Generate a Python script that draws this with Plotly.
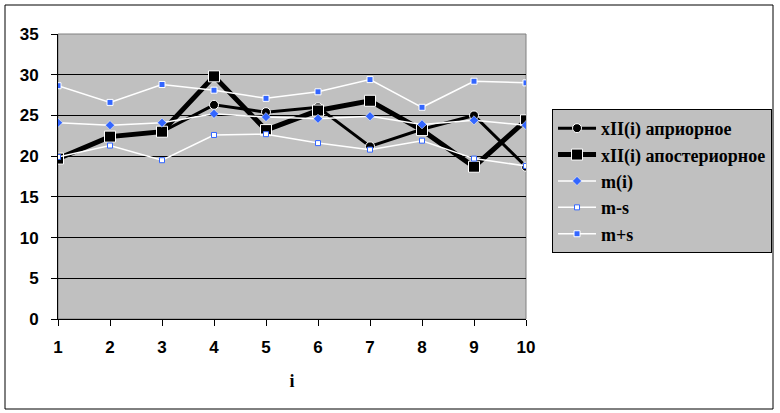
import plotly.graph_objects as go

i_vals = [1, 2, 3, 4, 5, 6, 7, 8, 9, 10]
x_apriori = [19.7, 22.4, 23.0, 26.3, 25.4, 26.0, 21.2, 23.3, 25.0, 18.7]
x_aposteriori = [19.7, 22.4, 23.0, 29.8, 23.2, 25.6, 26.8, 23.2, 18.7, 24.4]
m_vals = [24.1, 23.8, 24.1, 25.2, 24.8, 24.6, 24.9, 23.9, 24.4, 23.8]
m_minus_s = [19.9, 21.3, 19.5, 22.6, 22.7, 21.6, 20.8, 21.9, 19.7, 18.8]
m_plus_s = [28.65, 26.6, 28.8, 28.1, 27.1, 27.9, 29.4, 26.0, 29.2, 29.0]
names = ["xII(i) априорное", "xII(i) апостериорное", "m(i)", "m-s", "m+s"]
y_ticks = [0, 5, 10, 15, 20, 25, 30, 35]

fig = go.Figure()
fig.add_trace(go.Scatter(x=i_vals, y=x_apriori, name=names[0], mode="lines+markers",
                         line=dict(color="black", width=3),
                         marker=dict(symbol="circle", size=9, color="black",
                                     line=dict(color="white", width=1))))
fig.add_trace(go.Scatter(x=i_vals, y=x_aposteriori, name=names[1], mode="lines+markers",
                         line=dict(color="black", width=5),
                         marker=dict(symbol="square", size=11, color="black",
                                     line=dict(color="white", width=1))))
fig.add_trace(go.Scatter(x=i_vals, y=m_vals, name=names[2], mode="lines+markers",
                         line=dict(color="white", width=1.5),
                         marker=dict(symbol="diamond", size=7, color="#3366FF",
                                     line=dict(color="white", width=0.5))))
fig.add_trace(go.Scatter(x=i_vals, y=m_minus_s, name=names[3], mode="lines+markers",
                         line=dict(color="white", width=1.5),
                         marker=dict(symbol="square", size=5, color="white",
                                     line=dict(color="#3366FF", width=1))))
fig.add_trace(go.Scatter(x=i_vals, y=m_plus_s, name=names[4], mode="lines+markers",
                         line=dict(color="white", width=1.5),
                         marker=dict(symbol="square", size=6, color="#3366FF",
                                     line=dict(color="white", width=1))))

tickfont = dict(family="Liberation Sans, Arial", size=17, color="black", weight="bold")

fig.update_layout(
    width=780, height=413,
    margin=dict(l=58, r=254, t=34, b=94, autoexpand=False),
    paper_bgcolor="white",
    plot_bgcolor="#C0C0C0",
    showlegend=True,
    legend=dict(x=1.0556, y=0.737, xanchor="left", yanchor="top",
                bgcolor="#C0C0C0", bordercolor="black", borderwidth=1,
                font=dict(family="Liberation Serif, Times New Roman", size=18, color="black",
                          weight="bold"),
                itemwidth=38),
    xaxis=dict(range=[1, 10], tickvals=i_vals, ticks="outside", ticklen=6,
               tickcolor="black", showline=True, linecolor="black", linewidth=1,
               showgrid=False, zeroline=False, tickfont=tickfont, ticklabelstandoff=7,
               title=dict(text="i", font=dict(family="Liberation Serif, Times New Roman",
                                              size=18, color="black", weight="bold"),
                          standoff=17)),
    yaxis=dict(range=[0, 35], tickvals=y_ticks, ticks="outside", ticklen=6,
               tickcolor="black", showline=True, linecolor="black", linewidth=1,
               showgrid=True, gridcolor="black", gridwidth=1, zeroline=False,
               tickfont=tickfont, ticklabelstandoff=9),
)

# plot area gray border top/right
fig.add_shape(type="rect", xref="paper", yref="paper", x0=0, x1=1, y0=0, y1=1,
              line=dict(color="#808080", width=1), layer="below")
# outer chart border
fig.add_shape(type="rect", xref="paper", yref="paper",
              x0=(5 - 58) / 468, x1=(773 - 58) / 468,
              y0=(319 - 409) / 285, y1=(319 - 5) / 285,
              line=dict(color="black", width=1))

fig.write_html("out.html", config={"displayModeBar": False},
               post_script="document.body.style.margin='0';")
